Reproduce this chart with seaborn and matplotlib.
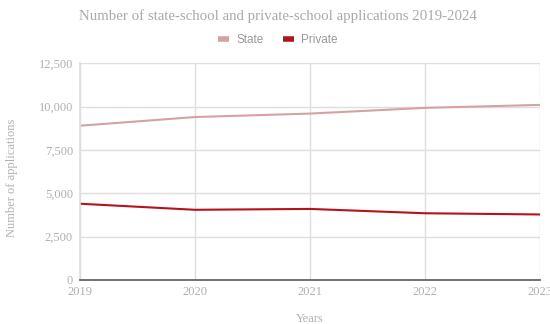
import matplotlib
matplotlib.use("Agg")
import matplotlib.pyplot as plt
import matplotlib.ticker as mticker
from matplotlib.lines import Line2D
import seaborn as sns
import pandas as pd

years = [2019, 2020, 2021, 2022, 2023]
state = [8900, 9400, 9600, 9930, 10100]
private = [4400, 4050, 4100, 3850, 3780]
series_names = ["State", "Private"]
colors = ["#d4a2a2", "#b5121b"]
yticks = [0, 2500, 5000, 7500, 10000, 12500]

df = pd.DataFrame({
    "Year": years * 2,
    "Applications": state + private,
    "Series": [series_names[0]] * len(years) + [series_names[1]] * len(years),
})

sns.set_theme(style="white")
plt.rcParams["font.family"] = ["Liberation Serif", "DejaVu Serif"]

fig = plt.figure(figsize=(5.5, 3.24), dpi=100)
ax = fig.add_axes([80 / 550, 1 - 280 / 324, 460 / 550, (280 - 63.3) / 324])

sns.lineplot(data=df, x="Year", y="Applications", hue="Series",
             palette=dict(zip(series_names, colors)), linewidth=1.5,
             ax=ax, legend=False)

ax.set_xlim(years[0], years[-1])
ax.set_ylim(0, 12500)
ax.set_xticks(years)
ax.set_yticks(yticks)
ax.yaxis.set_major_formatter(mticker.FuncFormatter(lambda v, p: f"{int(v):,}"))
ax.grid(True, color="#dedede", linewidth=1)
ax.set_axisbelow(True)
for s in ["top", "right"]:
    ax.spines[s].set_visible(False)
ax.spines["left"].set_color("#dedede")
ax.spines["bottom"].set_color("#666666")
ax.spines["bottom"].set_linewidth(1.3)
ax.tick_params(axis="both", length=0, labelsize=9, labelcolor="#b0b0b0")
ax.tick_params(axis="y", pad=5)
ax.tick_params(axis="x", pad=4)

ax.set_xlabel("Years", fontsize=9, color="#b0b0b0")
ax.xaxis.set_label_coords(0.5, -0.15)
ax.set_ylabel("Number of applications", fontsize=9, color="#b0b0b0")
ax.yaxis.set_label_coords(-0.135, 0.47)

fig.text(0.505, 1 - 16 / 324, "Number of state-school and private-school applications 2019-2024",
         ha="center", va="center", fontsize=10.7, color="#aaaaaa")

handles = [Line2D([0], [0], color=c, lw=4, solid_capstyle="butt") for c in colors]
leg = fig.legend(handles, series_names, loc="center", bbox_to_anchor=(0.505, 1 - 40 / 324),
                 ncol=2, frameon=False, handlelength=1.0, columnspacing=1.6, handletextpad=0.6,
                 prop={"family": ["Liberation Sans", "DejaVu Sans"], "size": 8.5})
for t in leg.get_texts():
    t.set_color("#999999")

fig.savefig("out.png", dpi=100)
